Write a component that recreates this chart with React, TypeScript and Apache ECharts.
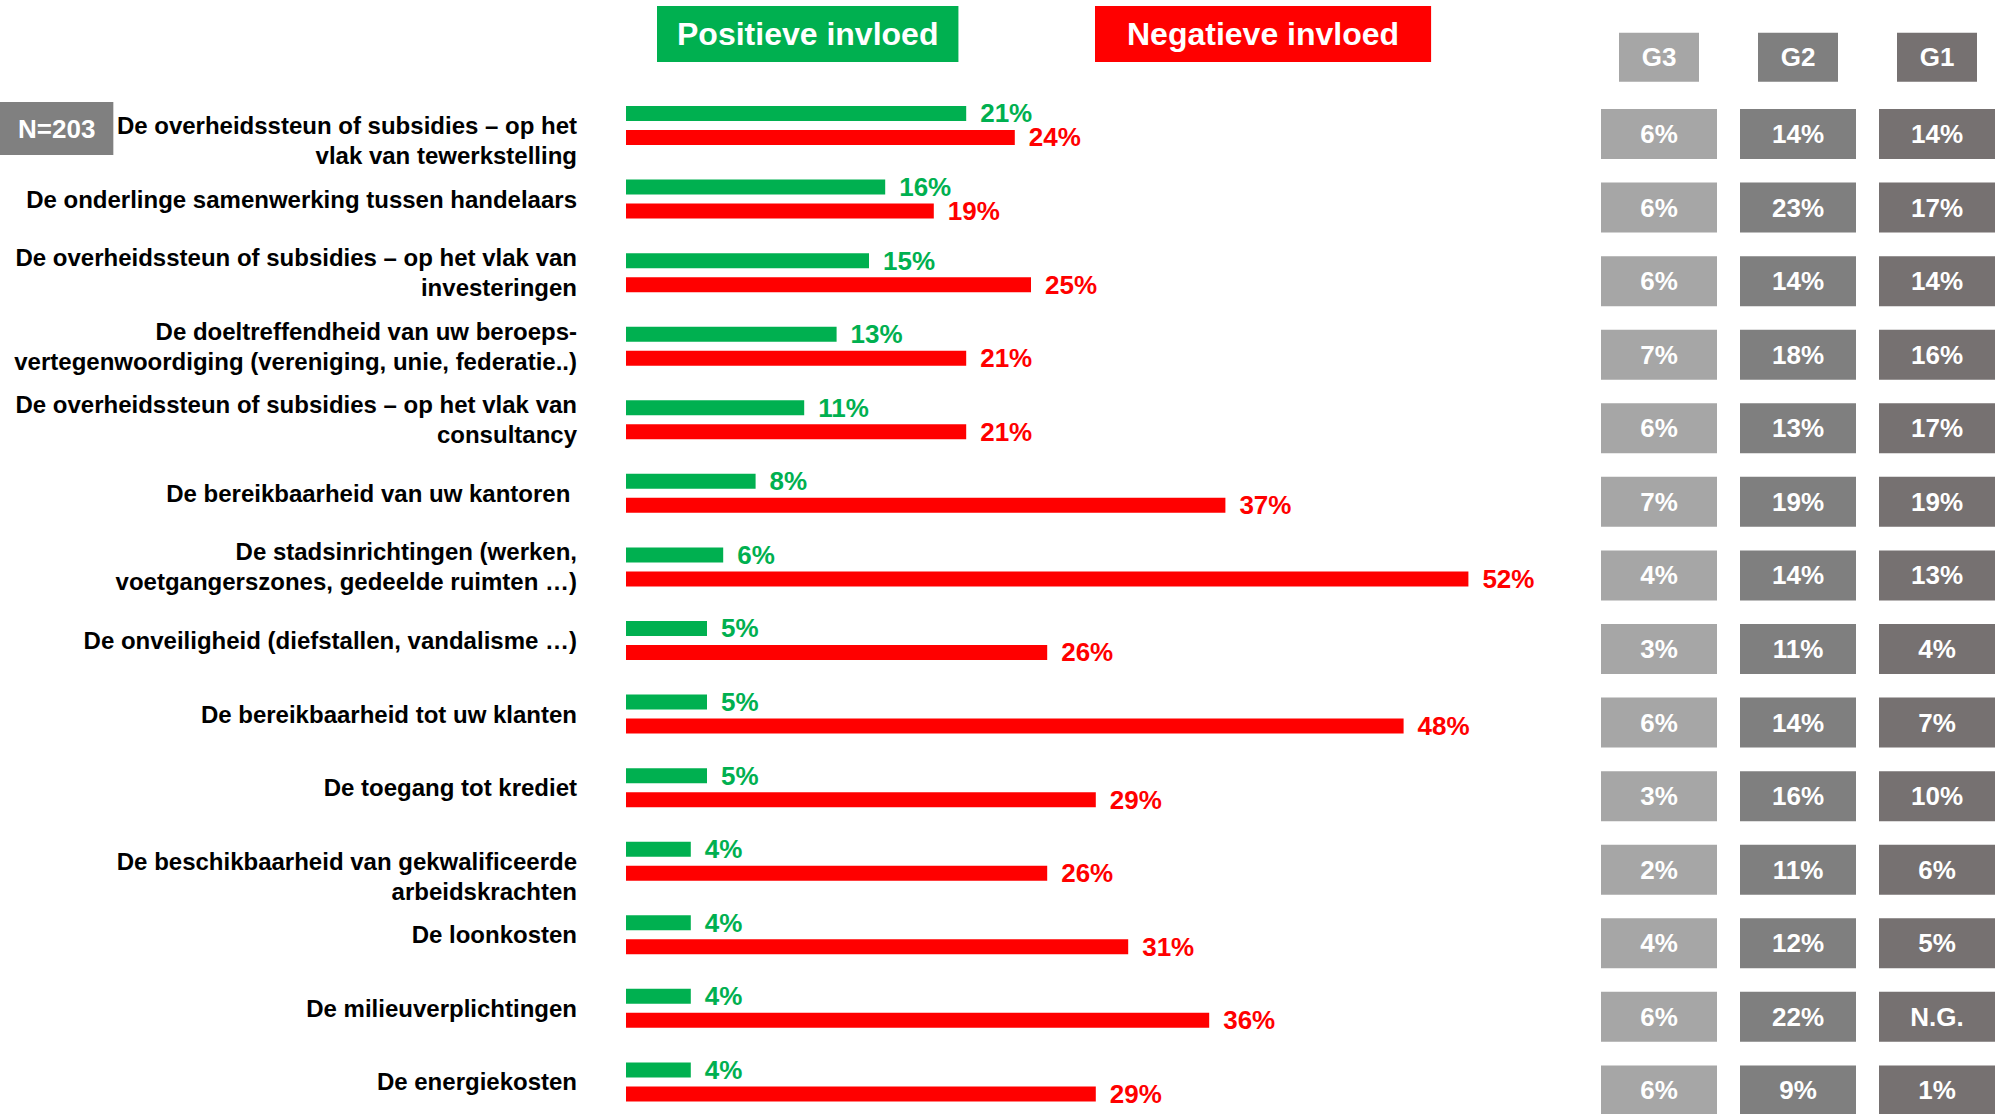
import React, { useEffect, useRef } from "react";
import * as echarts from "echarts";

const categories = [
  "De overheidssteun of subsidies – op het\nvlak van tewerkstelling",
  "De onderlinge samenwerking tussen handelaars",
  "De overheidssteun of subsidies – op het vlak van\ninvesteringen",
  "De doeltreffendheid van uw beroeps-\nvertegenwoordiging (vereniging, unie, federatie..)",
  "De overheidssteun of subsidies – op het vlak van\nconsultancy",
  "De bereikbaarheid van uw kantoren ",
  "De stadsinrichtingen (werken,\nvoetgangerszones, gedeelde ruimten …)",
  "De onveiligheid (diefstallen, vandalisme …)",
  "De bereikbaarheid tot uw klanten",
  "De toegang tot krediet",
  "De beschikbaarheid van gekwalificeerde\narbeidskrachten",
  "De loonkosten",
  "De milieuverplichtingen",
  "De energiekosten",
];
const positive = [21, 16, 15, 13, 11, 8, 6, 5, 5, 5, 4, 4, 4, 4];
const negative = [24, 19, 25, 21, 21, 37, 52, 26, 48, 29, 26, 31, 36, 29];
const groupLabels = ["G3", "G2", "G1"];
const g3 = [6, 6, 6, 7, 6, 7, 4, 3, 6, 3, 2, 4, 6, 6];
const g2 = [14, 23, 14, 18, 13, 19, 14, 11, 14, 16, 11, 12, 22, 9];
const g1: (number | null)[] = [14, 17, 14, 16, 17, 19, 13, 4, 7, 10, 6, 5, null, 1];
const groupValues = [g3, g2, g1];
const sampleLabel = "N=203";
const legendPos = "Positieve invloed";
const legendNeg = "Negatieve invloed";
// rows whose label sits half a line lower than the bar pair
const loweredRows = [0, 10];

const FONT = "'Liberation Sans', Arial, Helvetica, sans-serif";
const GREEN = "#00B050";
const RED = "#FF0000";
const groupColors = ["#A6A6A6", "#7F7F7F", "#767171"];

export default function App() {
  const ref = useRef<HTMLDivElement>(null);
  useEffect(() => {
    document.body.style.margin = "0";
    if (!ref.current) return;
    const chart = echarts.init(ref.current, undefined, { renderer: "svg" });

    const cellData: number[][] = [];
    groupValues.forEach((arr, col) => {
      arr.forEach((_, row) => cellData.push([col, row]));
    });

    const gridTop = 88.7;
    const gridHeight = 1030;

    const option: any = {
      animation: false,
      backgroundColor: "#ffffff",
      title: [
        {
          text: legendPos,
          left: 657,
          top: 6,
          padding: [12, 20],
          backgroundColor: GREEN,
          textStyle: { color: "#fff", fontSize: 32, fontWeight: "bold", fontFamily: FONT, lineHeight: 32 },
        },
        {
          text: legendNeg,
          left: 1095,
          top: 6,
          padding: [12, 32],
          backgroundColor: RED,
          textStyle: { color: "#fff", fontSize: 32, fontWeight: "bold", fontFamily: FONT, lineHeight: 32 },
        },
        {
          text: sampleLabel,
          left: 0,
          top: 102,
          padding: [13, 18],
          backgroundColor: "#808080",
          textStyle: { color: "#fff", fontSize: 26, fontWeight: "bold", fontFamily: FONT, lineHeight: 27 },
        },
      ],
      grid: [
        { left: 626, width: 972, top: gridTop, height: gridHeight, outerBoundsMode: "none", containLabel: false },
        { left: 1589.5, width: 417, top: gridTop, height: gridHeight, outerBoundsMode: "none", containLabel: false },
      ],
      xAxis: [
        { type: "value", gridIndex: 0, min: 0, max: 60, show: false },
        {
          type: "category",
          gridIndex: 1,
          position: "top",
          data: groupLabels,
          axisLine: { show: false },
          axisTick: { show: false },
          splitLine: { show: false },
          axisLabel: {
            interval: 0,
            margin: 7,
            formatter: (v: string) => `{${v}|${v}}`,
            rich: Object.fromEntries(
              groupLabels.map((g, i) => [
                g,
                {
                  backgroundColor: groupColors[i],
                  color: "#fff",
                  fontSize: 26,
                  fontWeight: "bold",
                  fontFamily: FONT,
                  width: 80,
                  height: 49,
                  lineHeight: 49,
                  align: "center",
                },
              ])
            ),
          },
        },
      ],
      yAxis: [
        {
          type: "category",
          gridIndex: 0,
          inverse: true,
          data: categories,
          axisLine: { show: false },
          axisTick: { show: false },
          splitLine: { show: false },
          axisLabel: {
            interval: 0,
            margin: 49,
            color: "#000",
            fontSize: 24,
            fontWeight: "bold",
            fontFamily: FONT,
            lineHeight: 30,
            align: "right",
            formatter: (v: string, i: number) => (loweredRows.includes(i) ? "\n" + v : v),
          },
        },
        {
          type: "category",
          gridIndex: 1,
          inverse: true,
          data: categories,
          show: false,
        },
      ],
      series: [
        {
          type: "bar",
          name: legendPos,
          xAxisIndex: 0,
          yAxisIndex: 0,
          data: positive,
          barWidth: 15,
          barGap: "60%",
          itemStyle: { color: GREEN },
          label: {
            show: true,
            position: "right",
            distance: 14,
            formatter: "{c}%",
            color: GREEN,
            fontSize: 26,
            fontWeight: "bold",
            fontFamily: FONT,
          },
        },
        {
          type: "bar",
          name: legendNeg,
          xAxisIndex: 0,
          yAxisIndex: 0,
          data: negative,
          barWidth: 15,
          barGap: "60%",
          itemStyle: { color: RED },
          label: {
            show: true,
            position: "right",
            distance: 14,
            formatter: "{c}%",
            color: RED,
            fontSize: 26,
            fontWeight: "bold",
            fontFamily: FONT,
          },
        },
        {
          type: "custom",
          xAxisIndex: 1,
          yAxisIndex: 1,
          data: cellData,
          renderItem: (params: any, api: any) => {
            const col = api.value(0);
            const row = api.value(1);
            const c = api.coord([col, row]);
            const v = groupValues[col][row];
            const txt = v === null || v === undefined ? "N.G." : `${v}%`;
            const w = 116;
            const h = 50;
            const cy = c[1] + 8.5;
            return {
              type: "group",
              children: [
                {
                  type: "rect",
                  shape: { x: c[0] - w / 2, y: cy - h / 2, width: w, height: h },
                  style: { fill: groupColors[col] },
                },
                {
                  type: "text",
                  style: {
                    text: txt,
                    x: c[0],
                    y: cy,
                    align: "center",
                    verticalAlign: "middle",
                    fill: "#fff",
                    font: `bold 26px ${FONT}`,
                  },
                },
              ],
            };
          },
        },
      ],
    };

    chart.setOption(option);
    return () => chart.dispose();
  }, []);

  return (
    <div
      ref={ref}
      style={{ position: "absolute", left: 0, top: 0, width: 1997, height: 1114 }}
    />
  );
}
